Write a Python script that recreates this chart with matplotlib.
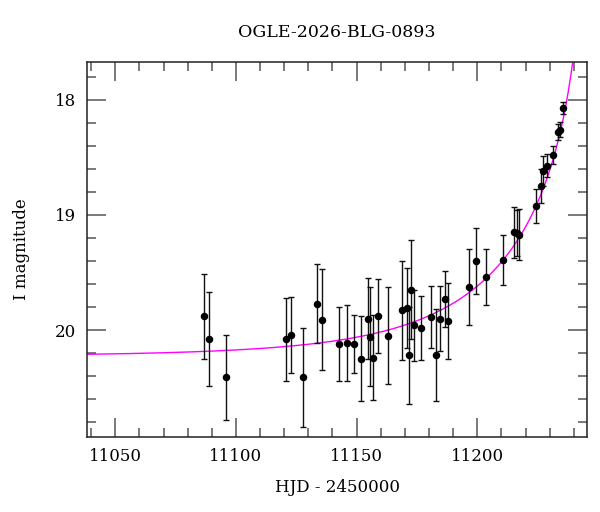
import matplotlib
matplotlib.use("Agg")
import matplotlib.pyplot as plt
import numpy as np
from matplotlib.ticker import MultipleLocator

plt.rcParams['font.family'] = ['DejaVu Serif']

# photometry (HJD - 2450000, I mag, error)
hjd = [11086.9, 11088.9, 11095.9, 11120.7, 11122.8, 11127.9, 11133.6, 11135.6,
       11142.7, 11145.9, 11148.8, 11151.8, 11154.7, 11155.5, 11156.6, 11158.7,
       11162.9, 11168.8, 11170.7, 11171.6, 11172.6, 11173.8, 11176.7, 11180.8,
       11182.8, 11184.7, 11186.7, 11187.7, 11196.6, 11199.5, 11203.5, 11210.5,
       11215.3, 11216.3, 11217.4, 11224.3, 11226.4, 11227.3, 11228.7, 11231.5,
       11233.3, 11234.3, 11235.5]
imag = [19.88, 20.08, 20.41, 20.08, 20.04, 20.41, 19.77, 19.91,
        20.12, 20.11, 20.12, 20.25, 19.90, 20.06, 20.24, 19.88,
        20.05, 19.83, 19.81, 20.22, 19.65, 19.96, 19.98, 19.89,
        20.22, 19.90, 19.73, 19.92, 19.63, 19.40, 19.54, 19.39,
        19.15, 19.16, 19.17, 18.92, 18.75, 18.62, 18.57, 18.48,
        18.28, 18.26, 18.07]
ierr = [0.37, 0.41, 0.37, 0.36, 0.33, 0.43, 0.34, 0.44,
        0.32, 0.33, 0.25, 0.37, 0.35, 0.43, 0.37, 0.32,
        0.42, 0.43, 0.35, 0.42, 0.43, 0.31, 0.28, 0.27,
        0.40, 0.28, 0.24, 0.33, 0.33, 0.29, 0.24, 0.22,
        0.22, 0.20, 0.22, 0.15, 0.15, 0.13, 0.10, 0.08,
        0.07, 0.065, 0.05]

# point-lens model parameters
t0 = 11246.0
tE = 70.0
u0 = 0.02
I_base = 20.23

t_model = np.linspace(11038.5, 11245.3, 600)
u = np.sqrt(u0**2 + ((t_model - t0) / tE)**2)
A = (u**2 + 2) / (u * np.sqrt(u**2 + 4))
m_model = I_base - 2.5 * np.log10(A)

fig = plt.figure(figsize=(6, 5.12), dpi=100)
ax = fig.add_axes([0.1458, 0.1465, 0.832, 0.7324])

ax.plot(t_model, m_model, color='#ff00ff', lw=1.0, zorder=1)
ax.errorbar(hjd, imag, yerr=ierr, fmt='o', color='black', ms=4.4,
            ecolor='#111111', elinewidth=1.0, capsize=2.5, capthick=1.0, zorder=2)

ax.set_xlim(11038.5, 11245.3)
ax.set_ylim(20.93, 17.67)
ax.xaxis.set_major_locator(MultipleLocator(50))
ax.xaxis.set_minor_locator(MultipleLocator(10))
ax.yaxis.set_major_locator(MultipleLocator(1))
ax.yaxis.set_minor_locator(MultipleLocator(0.2))
ax.tick_params(which='both', direction='in', top=True, right=True,
               color='#555555', width=1.1, labelsize=12, pad=8)
ax.tick_params(which='major', length=13.5)
ax.tick_params(which='minor', length=6.8)
for s in ax.spines.values():
    s.set_linewidth(1.1)
    s.set_color('#222222')

ax.set_xlabel('HJD - 2450000', fontsize=12, labelpad=10)
ax.set_ylabel('I magnitude', fontsize=12, labelpad=18)
ax.set_title('OGLE-2026-BLG-0893', fontsize=12.5, pad=18)

fig.savefig('out.png', dpi=100)
